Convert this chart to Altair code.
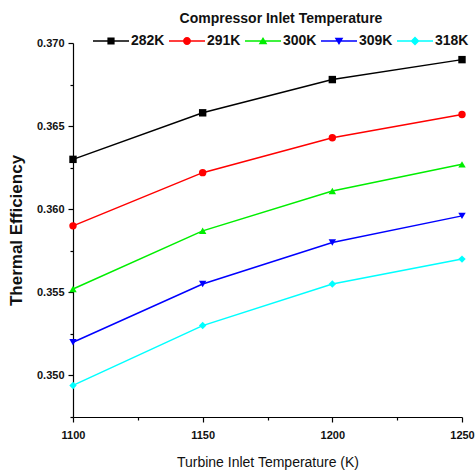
import altair as alt
import pandas as pd

tit = [1100, 1150, 1200, 1250]
series_names = ["282K", "291K", "300K", "309K", "318K"]
eff_282 = [0.3630, 0.3658, 0.3678, 0.3690]
eff_291 = [0.3590, 0.3622, 0.3643, 0.3657]
eff_300 = [0.3552, 0.3587, 0.3611, 0.3627]
eff_309 = [0.3520, 0.3555, 0.3580, 0.3596]
eff_318 = [0.3494, 0.3530, 0.3555, 0.3570]
colors = ["#000000", "#ff0000", "#00ee00", "#0000ff", "#00ffff"]
shapes = ["square", "circle", "triangle-up", "triangle-down", "diamond"]
line = "M-1,-0.04H1V0.04H-1Z"
legend_paths = [
    line + "M-0.2,-0.2H0.2V0.2H-0.2Z",
    line + "M-0.22,0A0.22,0.22 0 1,1 0.22,0A0.22,0.22 0 1,1 -0.22,0Z",
    line + "M0,-0.22L0.24,0.18H-0.24Z",
    line + "M0,0.22L-0.24,-0.18H0.24Z",
    line + "M0,-0.25L0.25,0L0,0.25L-0.25,0Z",
]
y_ticks = [0.3475, 0.350, 0.3525, 0.355, 0.3575, 0.360, 0.3625, 0.365, 0.3675, 0.370]
x_ticks = [1100, 1125, 1150, 1175, 1200, 1225, 1250]

rows = []
for name, vals in zip(series_names, [eff_282, eff_291, eff_300, eff_309, eff_318]):
    for t, v in zip(tit, vals):
        rows.append({"T": t, "eff": v, "series": name})
df = pd.DataFrame(rows)

FONT = "Liberation Sans"

x = alt.X("T:Q", scale=alt.Scale(domain=[1100, 1250], nice=False, zero=False),
          axis=alt.Axis(title="Turbine Inlet Temperature (K)", values=x_ticks,
                        labelExpr="datum.value % 50 === 0 ? datum.label : ''",
                        format="d", labelFlush=False,
                        tickSize={"condition": {"test": "datum.value % 50 === 0", "value": 5}, "value": 3},
                        grid=False, titlePadding=15, labelPadding=7))
y = alt.Y("eff:Q", scale=alt.Scale(domain=[0.3475, 0.370], nice=False, zero=False),
          axis=alt.Axis(title="Thermal Efficiency", values=y_ticks, format=".3f",
                        labelExpr="round(datum.value*1000) % 5 === 0 ? datum.label : ''",
                        labelFlush=False,
                        tickSize={"condition": {"test": "round(datum.value*1000) % 5 === 0", "value": 5}, "value": 3},
                        grid=False, titlePadding=11, labelPadding=4))
color = alt.Color("series:N", scale=alt.Scale(domain=series_names, range=colors), legend=None)

base = alt.Chart(df)
lines = base.mark_line(strokeWidth=1.5).encode(x=x, y=y, color=color)
points = base.mark_point(filled=True, size=55, opacity=1).encode(
    x=x, y=y, color=color,
    shape=alt.Shape("series:N", scale=alt.Scale(domain=series_names, range=shapes), legend=None))

leg = base.transform_filter("false").mark_point(filled=True, opacity=1).encode(
    color=alt.Color("series:N", scale=alt.Scale(domain=series_names, range=colors),
                    legend=alt.Legend(title="Compressor Inlet Temperature")),
    shape=alt.Shape("series:N", scale=alt.Scale(domain=series_names, range=legend_paths),
                    legend=alt.Legend(title="Compressor Inlet Temperature")),
)

chart = alt.layer(lines, points, leg).resolve_scale(shape="independent", color="independent").properties(
    width=389, height=374,
    autosize=alt.AutoSizeParams(type="none"),
    padding={"left": 73, "top": 43, "right": 13, "bottom": 58},
).configure_view(stroke=None).configure_axis(
    labelFont=FONT, titleFont=FONT, labelFontSize=11, labelFontWeight="bold",
    titleFontSize=14, titleFontWeight="normal", labelColor="#111", titleColor="#111",
    domainColor="#000", tickColor="#000", domainWidth=1.2, tickWidth=1.2,
).configure_axisY(titleFontWeight="bold", titleFontSize=17).configure_legend(
    orient="none", legendX=20, legendY=-31, direction="horizontal", columns=5,
    titleFont=FONT, labelFont=FONT, titleFontSize=14, titleFontWeight="bold",
    labelFontSize=14, labelFontWeight="bold", titleAnchor="middle", titleAlign="center",
    titleLimit=400, labelLimit=100,
    symbolSize=1296, symbolStrokeWidth=0, labelOffset=2, columnPadding=4,
    titleColor="#111", labelColor="#111", titlePadding=-3,
)

chart.save("out.html", embed_options={"renderer": "svg", "actions": False})
